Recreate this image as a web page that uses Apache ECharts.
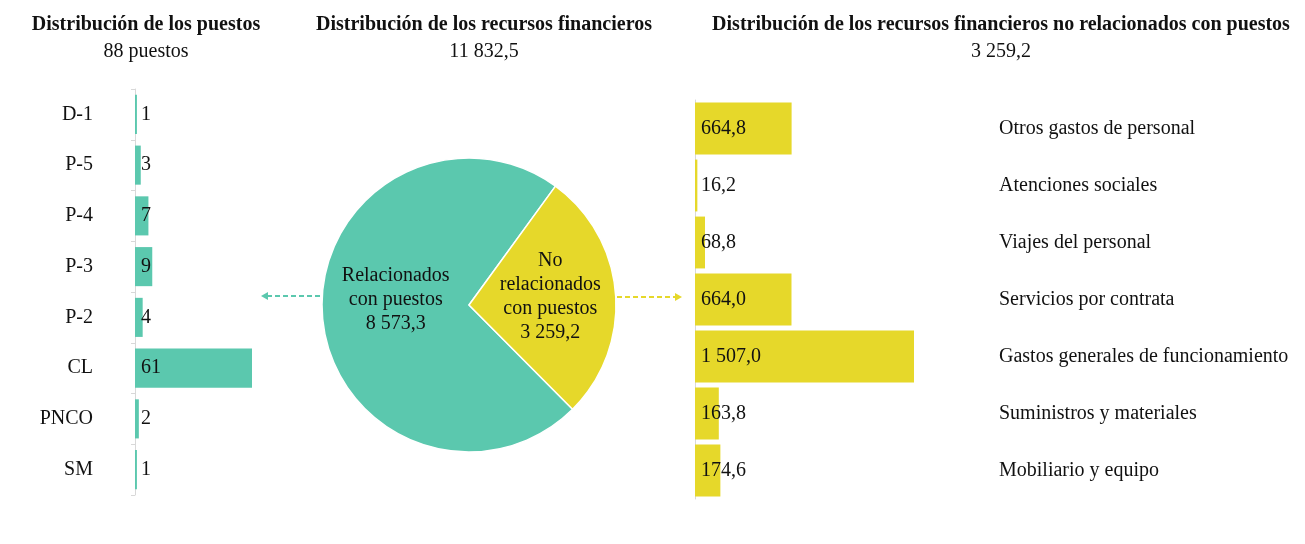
<!DOCTYPE html>
<html><head><meta charset="utf-8">
<script src="https://cdn.jsdelivr.net/npm/echarts@6/dist/echarts.min.js"></script>
<style>html,body{margin:0;padding:0;background:#fff}#c{width:1305px;height:544px}</style>
</head><body><div id="c"></div>
<script>
const postCats = ['D-1','P-5','P-4','P-3','P-2','CL','PNCO','SM'];
const postVals = [1,3,7,9,4,61,2,1];
const pieNames = ['Relacionados\ncon puestos','No\nrelacionados\ncon puestos'];
const pieVals = [8573.3,3259.2];
const costCats = ['Otros gastos de personal','Atenciones sociales','Viajes del personal','Servicios por contrata','Gastos generales de funcionamiento','Suministros y materiales','Mobiliario y equipo'];
const costVals = [664.8,16.2,68.8,664.0,1507.0,163.8,174.6];
const titles = ['Distribución de los puestos','Distribución de los recursos financieros','Distribución de los recursos financieros no relacionados con puestos'];
const subtitles = ['88 puestos','11 832,5','3 259,2'];

const TEAL = '#5bc8ae', YELLOW = '#e6d82a';
const FONT = '"Liberation Serif","Times New Roman",serif';
function fmt(v, dec){
  let s = v.toFixed(dec);
  let [i,d] = s.split('.');
  i = i.replace(/\B(?=(\d{3})+(?!\d))/g,' ');
  return d ? i + ',' + d : i;
}
const titleX = [141, 479, 996];
const chart = echarts.init(document.getElementById('c'));
chart.setOption({
  animation:false,
  title: titles.map((t,i)=>({
    text:t, subtext:subtitles[i], left:titleX[i], top:10, textAlign:'center', itemGap:7,
    textStyle:{fontFamily:FONT,fontWeight:'bold',fontSize:20,color:'#111'},
    subtextStyle:{fontFamily:FONT,fontSize:20,color:'#111'}
  })),
  grid:[
    {left:135, top:89, width:117, height:406},
    {left:695, top:100, width:219, height:399}
  ],
  xAxis:[
    {gridIndex:0,type:'value',min:0,max:61,show:false},
    {gridIndex:1,type:'value',min:0,max:1507,show:false}
  ],
  yAxis:[
    {gridIndex:0,type:'category',data:postCats,inverse:true,
     axisLine:{lineStyle:{color:'#d8d8d8'}},
     axisTick:{show:true,length:4,lineStyle:{color:'#d8d8d8'}},
     axisLabel:{margin:42,fontFamily:FONT,fontSize:20,color:'#111'}},
    {gridIndex:1,type:'category',data:costCats,inverse:true,position:'left',
     axisLine:{lineStyle:{color:'#d8d8d8'}},axisTick:{show:false},axisLabel:{show:false}},
    {gridIndex:1,type:'category',data:costCats,inverse:true,position:'right',
     axisLine:{show:false},axisTick:{show:false},
     axisLabel:{margin:85,align:'left',fontFamily:FONT,fontSize:20,color:'#111'}}
  ],
  series:[
    {type:'bar',xAxisIndex:0,yAxisIndex:0,data:postVals,barCategoryGap:'23%',
     itemStyle:{color:TEAL},
     label:{show:true,position:'insideLeft',distance:6,fontFamily:FONT,fontSize:20,color:'#111',
       formatter:p=>fmt(p.value,0)}},
    {type:'bar',xAxisIndex:1,yAxisIndex:1,data:costVals,barCategoryGap:'9%',
     itemStyle:{color:YELLOW},
     label:{show:true,position:'insideLeft',distance:6,fontFamily:FONT,fontSize:20,color:'#111',
       formatter:p=>fmt(p.value,1)}},
    {type:'pie',center:[469,305],radius:147,startAngle:-45.2,clockwise:true,
     data:pieNames.map((n,i)=>({name:n,value:pieVals[i]})),
     color:[TEAL,YELLOW],
     itemStyle:{borderColor:'#fff',borderWidth:1.5},
     labelLine:{show:false},
     labelLayout:p=>p.dataIndex===0?{dx:3,dy:-11}:{dx:5,dy:-2},
     label:{show:true,position:'inside',fontFamily:FONT,fontSize:20,lineHeight:24,color:'#111',
       formatter:p=>p.name+'\n'+fmt(p.value,1)}}
  ],
  graphic:[
    {type:'line',shape:{x1:320,y1:296,x2:266,y2:296},style:{stroke:TEAL,lineWidth:2,lineDash:[5,3]}},
    {type:'polygon',shape:{points:[[261,296],[268,292],[268,300]]},style:{fill:TEAL}},
    {type:'line',shape:{x1:617,y1:297,x2:676,y2:297},style:{stroke:YELLOW,lineWidth:2,lineDash:[5,3]}},
    {type:'polygon',shape:{points:[[682,297],[675,293],[675,301]]},style:{fill:YELLOW}}
  ]
});
</script></body></html>
